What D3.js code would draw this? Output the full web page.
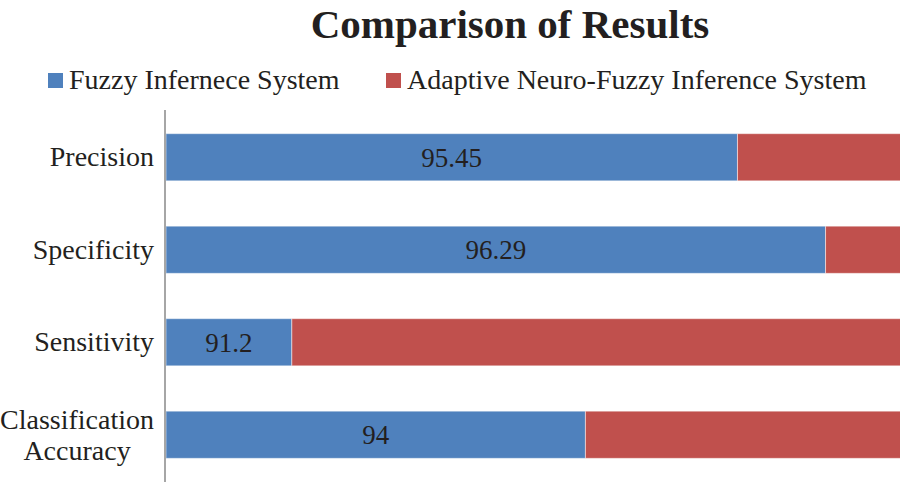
<!DOCTYPE html>
<html>
<head>
<meta charset="utf-8">
<script src="https://cdn.jsdelivr.net/npm/d3@7"></script>
<style>
  body { margin: 0; background: #fff; }
  svg { display: block; }
  text { font-family: "Liberation Serif", "Times New Roman", Times, serif; }
</style>
</head>
<body>
<div id="chart"></div>
<script>
var WIDTH = 900, HEIGHT = 483;
var TEXT_COL = "#231f20";

var categories = ["Precision", "Specificity", "Sensitivity", "Classification Accuracy"];
var seriesNames = ["Fuzzy Infernece System", "Adaptive Neuro-Fuzzy Inference System"];
var fisValues = [95.45, 96.29, 91.2, 94];
// second series runs off the right edge of the picture, values estimated
var anfisValues = [98.2, 98.9, 97.6, 98.5];
var colors = ["#4f81bd", "#c0504d"];

var rows = categories.map(function(c, i) {
    return { cat: c, fis: fisValues[i], anfis: anfisValues[i] };
});

var svg = d3.select("#chart").append("svg")
    .attr("width", WIDTH)
    .attr("height", HEIGHT);

var scaleX = d3.scaleLinear()
    .domain([90, 97])
    .range([166, 900]);

var scaleY = d3.scaleBand()
    .domain(categories)
    .range([111, 481])
    .paddingInner(0.49)
    .paddingOuter(0.245);

var stack = d3.stack().keys(["fis", "anfis"]);
var series = stack(rows);

svg.append("clipPath")
    .attr("id", "plotclip")
    .append("rect")
    .attr("x", 166).attr("y", 100)
    .attr("width", WIDTH - 166).attr("height", 390);

var plot = svg.append("g").attr("clip-path", "url(#plotclip)");

plot.selectAll(".series")
    .data(series)
    .enter()
    .append("g")
    .attr("fill", function(d, i) { return colors[i]; })
    .selectAll("rect")
    .data(function(d) { return d; })
    .enter()
    .append("rect")
    .attr("x", function(d) { return scaleX(Math.max(d[0], 90)); })
    .attr("y", function(d) { return scaleY(d.data.cat); })
    .attr("width", function(d) { return scaleX(d[1]) - scaleX(Math.max(d[0], 90)); })
    .attr("height", scaleY.bandwidth())
    .attr("stroke", "rgba(255,255,255,0.5)")
    .attr("stroke-width", 1);

// value labels for the first series
svg.selectAll(".val")
    .data(rows)
    .enter()
    .append("text")
    .attr("x", function(d) { return (scaleX(90) + scaleX(d.fis)) / 2; })
    .attr("y", function(d) { return scaleY(d.cat) + scaleY.bandwidth() / 2; })
    .attr("dy", "0.35em")
    .attr("text-anchor", "middle")
    .style("font-size", "27px")
    .style("fill", TEXT_COL)
    .text(function(d) { return d.fis; });

// category axis
var yAxis = d3.axisLeft(scaleY).tickSize(0).tickPadding(11);
var gy = svg.append("g")
    .attr("transform", "translate(165,0)")
    .call(yAxis);
gy.attr("font-family", null).attr("font-size", null);
gy.select(".domain")
    .attr("stroke", "#a6a6a6")
    .attr("stroke-width", 2)
    .attr("d", "M0," + 110 + "V" + 482);
gy.selectAll("text")
    .style("font-size", "28px")
    .style("fill", TEXT_COL)
    .each(function(d) {
        var t = d3.select(this);
        var words = d.split(" ");
        if (words.length > 1) {
            t.text(null).attr("text-anchor", "middle");
            words.forEach(function(w, k) {
                t.append("tspan")
                    .attr("x", -88)
                    .attr("dy", k == 0 ? "-0.2em" : "1.1em")
                    .text(w);
            });
        }
    });

// title
svg.append("text")
    .attr("x", 510)
    .attr("y", 38)
    .attr("text-anchor", "middle")
    .style("font-weight", "bold")
    .style("font-size", "41px")
    .style("fill", TEXT_COL)
    .text("Comparison of Results");

// legend
var legendX = [48, 386];
var legend = svg.selectAll(".legend")
    .data(seriesNames)
    .enter()
    .append("g")
    .attr("transform", function(d, i) { return "translate(" + legendX[i] + ",73)"; });
legend.append("rect")
    .attr("width", 15).attr("height", 15)
    .attr("fill", function(d, i) { return colors[i]; });
legend.append("text")
    .attr("x", 21)
    .attr("y", 16)
    .style("font-size", "28px")
    .style("fill", TEXT_COL)
    .text(function(d) { return d; });
</script>
</body>
</html>
